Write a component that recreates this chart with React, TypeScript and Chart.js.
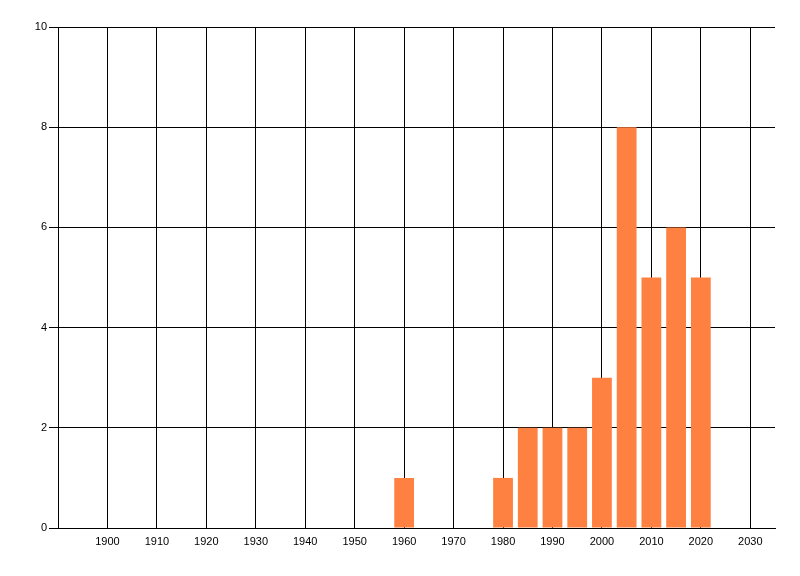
import { useEffect, useRef } from 'react';
import { Chart, registerables } from 'chart.js';

Chart.register(...registerables);

const years = [1960, 1980, 1985, 1990, 1995, 2000, 2005, 2010, 2015, 2020];
const counts = [1, 1, 2, 2, 2, 3, 8, 5, 6, 5];
const xTicks = [1900, 1910, 1920, 1930, 1940, 1950, 1960, 1970, 1980, 1990, 2000, 2010, 2020, 2030];
const yTicks = [0, 2, 4, 6, 8, 10];

const FONT = { family: '"Liberation Sans", Arial, sans-serif', size: 11 };

export default function App() {
  const canvasRef = useRef<HTMLCanvasElement>(null);
  const chartRef = useRef<Chart | null>(null);

  useEffect(() => {
    document.body.style.margin = '0';
    if (!canvasRef.current) return;
    if (chartRef.current) chartRef.current.destroy();
    const ctx = canvasRef.current.getContext('2d');
    if (!ctx) return;

    chartRef.current = new Chart(ctx, {
      type: 'bar',
      data: {
        datasets: [{
          label: 'count',
          data: years.map((y, i) => ({ x: y, y: counts[i] })),
          backgroundColor: '#FF8142',
          borderWidth: 0,
          barPercentage: 1,
          categoryPercentage: 0.8,
        }]
      },
      options: {
        animation: false,
        responsive: false,
        maintainAspectRatio: false,
        layout: { padding: { left: 0, right: 25, top: 27, bottom: 0 } },
        plugins: {
          legend: { display: false },
          tooltip: { enabled: false },
        },
        scales: {
          x: {
            type: 'linear',
            min: 1890,
            max: 2035,
            offset: false,
            afterBuildTicks: (axis: any) => {
              axis.ticks = xTicks.map(v => ({ value: v }));
            },
            afterFit: (axis: any) => { axis.height = 48; },
            grid: {
              color: (c: any) => (c.tick && xTicks.includes(c.tick.value) ? '#000' : 'rgba(0,0,0,0)'),
              lineWidth: 1,
              drawTicks: false,
              offset: false,
            },
            border: { display: true, color: '#000', width: 1 },
            ticks: {
              color: '#000',
              font: FONT,
              padding: 7,
              maxRotation: 0,
              autoSkip: false,
              callback: (v: any) => String(v),
            },
          },
          y: {
            type: 'linear',
            min: 0,
            max: 10,
            afterBuildTicks: (axis: any) => {
              axis.ticks = yTicks.map(v => ({ value: v }));
            },
            afterFit: (axis: any) => { axis.width = 58; },
            grid: { color: '#000', lineWidth: 1, drawTicks: true, tickLength: 9 },
            border: { display: true, color: '#000', width: 1 },
            ticks: {
              color: '#000',
              font: FONT,
              padding: 2,
            },
          },
        },
      },
    });

    return () => {
      if (chartRef.current) {
        chartRef.current.destroy();
        chartRef.current = null;
      }
    };
  }, []);

  return (
    <div style={{ width: 800, height: 576, background: '#fff' }}>
      <canvas ref={canvasRef} width={800} height={576} />
    </div>
  );
}
